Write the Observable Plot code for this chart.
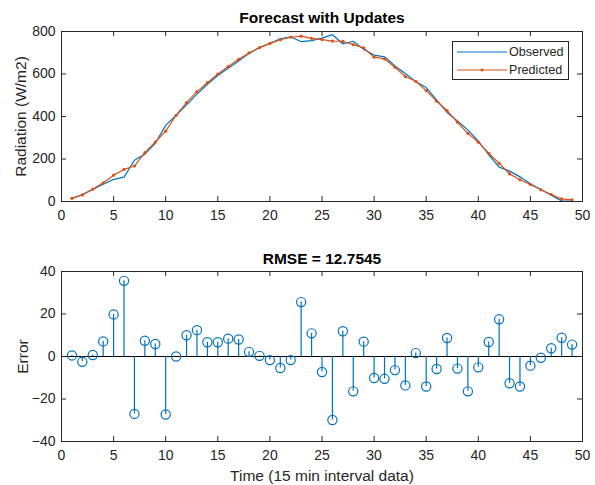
<!DOCTYPE html>
<html><head><meta charset="utf-8">
<script src="https://cdn.jsdelivr.net/npm/d3@7"></script>
<script src="https://cdn.jsdelivr.net/npm/@observablehq/plot@0.6"></script>
<style>
body{margin:0;background:#fff;font-family:"Liberation Sans",Arial,sans-serif;}
#fig{position:relative;width:595px;height:485px;background:#fff;}
#top,#bot{position:absolute;left:0;}
#top{top:0}
#bot{top:235px}
#legend{position:absolute;left:452px;top:41px;width:115px;height:37px;border:1px solid #262626;background:#fff;font-size:12.6px;color:#262626;}
#legend .row{position:absolute;left:0;height:18px;display:flex;align-items:center;}
#legend svg{display:block}
</style></head>
<body><div id="fig"><div id="top"></div><div id="bot"></div><div id="legend"></div></div>
<script>
const timeSteps = [1,2,3,4,5,6,7,8,9,10,11,12,13,14,15,16,17,18,19,20,21,22,23,24,25,26,27,28,29,30,31,32,33,34,35,36,37,38,39,40,41,42,43,44,45,46,47,48,49];
const predicted = [15,31,58,88,124,151,167,230,280,331,406,465,517,559,600,635,669,699,724,743,761,773,778,768,762,755,754,738,723,679,671,632,588,566,522,472,428,373,321,279,227,180,130,102,80,55,33,12,8];
const observed  = [14,33,57,81,104,115,194,223,274,358,406,455,505,552,593,627,661,697,724,745,766,775,752,757,769,785,742,754,716,689,681,638,602,564,536,478,419,379,337,284,220,162,143,116,84,56,29,3,2];
const errors    = [0.5,-2.5,0.7,7.1,19.8,35.6,-27,7.4,5.9,-27.3,0,10,12.4,6.7,6.7,8.4,8,2.2,0.3,-1.7,-5.4,-1.7,25.6,10.9,-7.3,-29.9,11.9,-16.4,7,-10.1,-10.5,-6.4,-13.6,1.6,-14.1,-5.9,8.7,-5.7,-16.4,-5.1,6.8,17.5,-12.6,-14.1,-4.3,-0.6,3.9,8.8,5.6];
const xTicks = [0,5,10,15,20,25,30,35,40,45,50];
const radTicks = [0,200,400,600,800];
const errTicks = [-40,-20,0,20,40];
const seriesNames = ["Observed","Predicted"];
const topTitle = "Forecast with Updates";
const bottomTitle = "RMSE = 12.7545";
const topYLabel = "Radiation (W/m2)";
const botYLabel = "Error";
const xLabel = "Time (15 min interval data)";

const BLUE = "#0072BD", ORANGE = "#D95319", INK = "#262626";

const topRows = timeSteps.map((t,i)=>({t, obs: observed[i], pred: predicted[i]}));
const errRows = timeSteps.map((t,i)=>({t, e: errors[i]}));

const TL = 5; // inward tick length (px)
const FW = 521, FH = 170; // frame inner size shared by both panels

function boxAxes(yTicks){
  return [
    Plot.axisX(xTicks, {anchor:"bottom", tickSize:0, tickPadding:9, fontSize:14, color:INK, label:null}),
    Plot.axisY(yTicks, {anchor:"left", tickSize:0, tickPadding:6, fontSize:14, color:INK, label:null}),
    // inward ticks on all four sides, as short rules hanging from the frame edges
    Plot.ruleX(xTicks, {x:d=>d, insetTop:FH-TL, stroke:INK, strokeWidth:1}),
    Plot.ruleX(xTicks, {x:d=>d, insetBottom:FH-TL, stroke:INK, strokeWidth:1}),
    Plot.ruleY(yTicks, {y:d=>d, insetRight:FW-TL, stroke:INK, strokeWidth:1}),
    Plot.ruleY(yTicks, {y:d=>d, insetLeft:FW-TL, stroke:INK, strokeWidth:1}),
    Plot.frame({stroke:INK, strokeWidth:1})
  ];
}

const topPlot = Plot.plot({
  width:595, height:235,
  marginLeft:61, marginRight:13, marginTop:31, marginBottom:34,
  style:{fontFamily:'"Liberation Sans", Arial, sans-serif', background:"#fff", overflow:"visible"},
  x:{domain:[0,50]},
  y:{domain:[0,800]},
  marks:[
    Plot.line(topRows, {x:"t", y:"obs", stroke:BLUE, strokeWidth:1.2}),
    Plot.line(topRows, {x:"t", y:"pred", stroke:ORANGE, strokeWidth:1.2}),
    Plot.dot(topRows, {x:"t", y:"pred", r:1.6, fill:ORANGE}),
    ...boxAxes(radTicks),
    Plot.text([topTitle], {frameAnchor:"top", dy:-13, lineAnchor:"middle", fontWeight:"bold", fontSize:15.5, fill:"#000"}),
    Plot.text([topYLabel], {frameAnchor:"left", dx:-40, rotate:-90, textAnchor:"middle", lineAnchor:"middle", fontSize:15.5, fill:INK})
  ]
});
document.getElementById("top").appendChild(topPlot);

const botPlot = Plot.plot({
  width:595, height:250,
  marginLeft:61, marginRight:13, marginTop:36, marginBottom:44,
  style:{fontFamily:'"Liberation Sans", Arial, sans-serif', background:"transparent", overflow:"visible"},
  x:{domain:[0,50]},
  y:{domain:[-40,40]},
  marks:[
    Plot.ruleY([0], {stroke:"#000", strokeWidth:1}),
    Plot.ruleX(errRows, {x:"t", y1:0, y2:"e", stroke:BLUE, strokeWidth:1.2}),
    Plot.dot(errRows, {x:"t", y:"e", r:4.6, stroke:BLUE, strokeWidth:1.2, fill:"none"}),
    ...boxAxes(errTicks),
    Plot.text([bottomTitle], {frameAnchor:"top", dy:-12, lineAnchor:"middle", fontWeight:"bold", fontSize:15.5, fill:"#000"}),
    Plot.text([botYLabel], {frameAnchor:"left", dx:-38, rotate:-90, textAnchor:"middle", lineAnchor:"middle", fontSize:15.5, fill:INK}),
    Plot.text([xLabel], {frameAnchor:"bottom", dy:35, lineAnchor:"middle", fontSize:15.5, fill:INK})
  ]
});
document.getElementById("bot").appendChild(botPlot);

// legend
const legend = document.getElementById("legend");
const colors = [BLUE, ORANGE];
seriesNames.forEach((name, i) => {
  const row = document.createElement("div");
  row.className = "row";
  row.style.top = (i === 0 ? 1 : 19) + "px";
  const ns = "http://www.w3.org/2000/svg";
  const svg = document.createElementNS(ns, "svg");
  svg.setAttribute("width", 56); svg.setAttribute("height", 18);
  const ln = document.createElementNS(ns, "line");
  ln.setAttribute("x1", 4); ln.setAttribute("x2", 54); ln.setAttribute("y1", 9); ln.setAttribute("y2", 9);
  ln.setAttribute("stroke", colors[i]); ln.setAttribute("stroke-width", 1.2);
  svg.appendChild(ln);
  if (i === 1) {
    const c = document.createElementNS(ns, "circle");
    c.setAttribute("cx", 29); c.setAttribute("cy", 9); c.setAttribute("r", 1.6); c.setAttribute("fill", colors[i]);
    svg.appendChild(c);
  }
  row.appendChild(svg);
  const span = document.createElement("span");
  span.textContent = name;
  row.appendChild(span);
  legend.appendChild(row);
});
</script>
</body></html>
